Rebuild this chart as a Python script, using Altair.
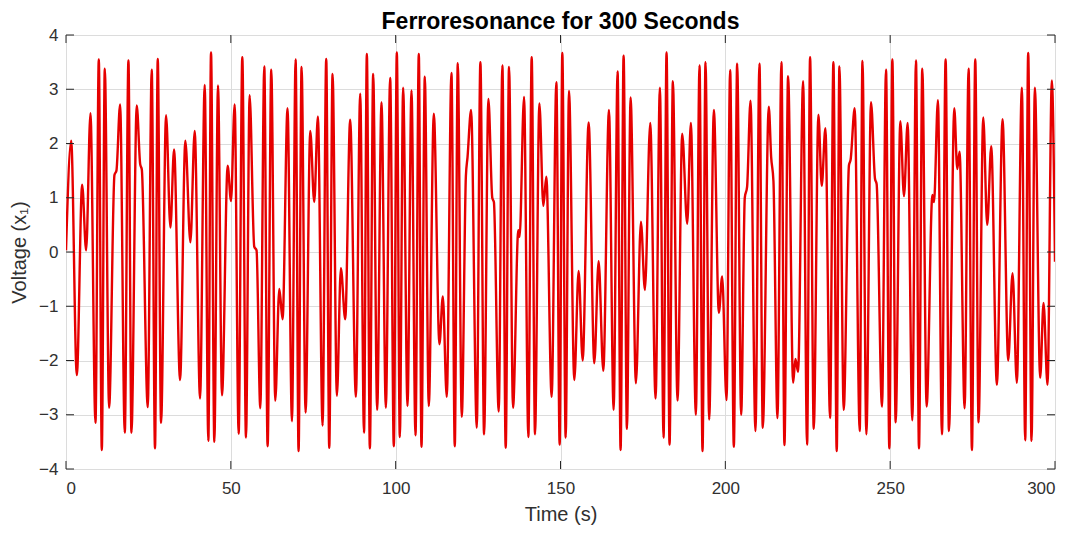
import altair as alt
import pandas as pd

# Time (s) of each read-off turning point / shoulder of the trace
t = [0, 1.57, 3.28, 4.9, 6.11, 7.42, 8.94, 9.95, 10.86, 11.77, 13.08, 14.7, 15.3, 16.41, 17.83, 18.94, 19.85,
     21.46, 22.5, 23.0, 24.8, 26.0, 27.0, 27.83, 28.84, 30.35, 31.67, 32.78, 34.6, 36.2, 37.73, 39.04, 40.66,
     42.07, 43.18, 43.99, 45.0, 46.11, 47.32, 49.04, 50.05, 51.16, 52.37, 53.48, 54.6, 55.7, 57.1, 57.8, 58.94,
     60.15, 61.16, 62.27, 63.48, 64.7, 65.7, 67.2, 68.54, 69.65, 70.55, 71.46, 72.68, 74.09, 75.3, 76.41, 77.83,
     78.94, 79.85, 80.86, 82.17, 83.38, 84.7, 86.2, 87.93, 89.24, 90.4, 91.26, 92.17, 93.18, 94.39, 95.7, 97.02,
     98.33, 99.44, 100.35, 101.26, 102.27, 103.59, 104.8, 106.01, 107.02, 107.83, 108.84, 110.05, 111.57, 113.28,
     114.3, 115.5, 116.92, 117.93, 118.84, 120.05, 121.3, 121.8, 122.88, 124.6, 125.7, 126.82, 128.13, 129.3,
     129.8, 131.26, 132.37, 133.38, 134.39, 135.6, 137.2, 137.6, 138.94, 140.25, 141.26, 142.27, 143.59, 144.8,
     145.7, 147.32, 148.74, 149.75, 150.55, 151.57, 152.58, 154.19, 155.5, 156.72, 158.54, 160.25, 161.57, 162.98,
     164.7, 166.11, 167.32, 168.23, 169.14, 170.15, 171.26, 172.88, 174.39, 175.6, 177.22, 178.84, 180.15, 181.26,
     182.17, 183.08, 184.09, 185.5, 186.92, 188.43, 189.55, 191.06, 192.17, 193.08, 193.99, 195.1, 196.52, 198.03,
     199.04, 200.36, 201.46, 202.58, 203.59, 204.8, 205.9, 206.6, 207.63, 209.14, 210.35, 211.36, 213.18, 213.9,
     214.6, 215.81, 217.02, 217.93, 219.04, 220.56, 221.26, 222.07, 223.59, 224.8, 225.71, 226.82, 228.23, 229.24,
     230.35, 231.77, 232.78, 233.79, 234.6, 235.91, 237.5, 238.0, 239.24, 240.76, 241.6, 242.78, 244.19, 245.4,
     245.9, 247.52, 248.74, 249.75, 250.66, 251.67, 253.08, 254.19, 255.3, 256.72, 257.83, 258.74, 259.75, 261.06,
     262.8, 263.3, 264.49, 265.71, 266.82, 267.83, 269.45, 270.35, 271.06, 272.58, 273.79, 274.8, 275.81, 276.82,
     278.23, 279.44, 280.66, 282.37, 284.09, 285.81, 287.12, 288.43, 289.95, 290.96, 291.87, 292.88, 293.89,
     295.51, 296.52, 297.73, 299.04, 300]

# Voltage x1 at those times
x1 = [0.03, 2.05, -2.27, 1.24, 0.03, 2.56, -3.15, 3.55, -3.65, 3.38, -2.87, 1.42, 1.50, 2.72, -3.33, 3.53, -3.33,
      2.70, 1.62, 1.52, -2.86, 3.36, -3.62, 3.56, -3.15, 2.52, 0.45, 1.89, -2.36, 2.05, 0.18, 2.23, -2.70,
      3.08, -3.48, 3.68, -3.50, 3.07, -2.64, 1.59, 0.94, 2.72, -3.35, 3.59, -3.42, 2.89, 0.10, 0.03, -2.88,
      3.42, -3.58, 3.36, -2.74, -0.68, -1.24, 2.65, -3.12, 3.55, -3.67, 3.41, -2.96, 2.23, 0.92, 2.50, -3.20,
      3.56, -3.61, 3.28, -2.65, -0.30, -1.24, 2.44, -2.67, 2.92, -3.33, 3.65, -3.62, 3.28, -2.91, 2.76, -2.87,
      3.21, -3.58, 3.68, -3.41, 3.03, -2.84, 2.98, -3.38, 3.65, -3.59, 3.23, -2.84, 2.55, -1.70,
      -0.82, -2.67, 3.30, -3.58, 3.48, -3.04, 1.40, 1.75, 2.62, -3.24, 3.50, -3.36, 2.82, 1.00,
      0.92, -2.94, 3.44, -3.61, 3.41, -2.87, 0.40, 0.28, 2.86, -3.41, 3.59, -3.36, 2.74, 0.85,
      1.39, -2.67, 3.13, -3.55, 3.67, -3.42, 2.97, -2.36, -0.35, -2.00, 2.39, -2.05, -0.17, -2.19,
      2.62, -2.91, 3.33, -3.65, 3.62, -3.26, 2.85, -2.42, 0.56, -0.70, 2.38, -2.70, 3.03, -3.42,
      3.68, -3.55, 3.15, -2.74, 2.18, 0.52, 2.38, -3.00, 3.44, -3.67, 3.50, -3.09, 2.62, -1.12,
      -0.45, -2.73, 3.35, -3.59, 3.47, -3.00, 1.00, 1.20, 2.79, -3.30, 3.47, -3.24, 2.68, 1.75,
      1.30, -3.06, 3.50, -3.56, 3.24, -2.41, -1.97, -2.21, 3.15, -3.55, 3.59, -3.26, 2.53, 1.22,
      2.28, -3.06, 3.50, -3.67, 3.42, -2.91, 1.60, 1.70, 2.65, -3.30, 3.52, -3.36, 2.76, 1.35,
      1.25, -2.85, 3.36, -3.62, 3.55, -3.14, 2.41, 1.03, 2.38, -3.10, 3.53, -3.62, 3.38, -2.85,
      1.05, 0.92, 2.80, -3.36, 3.55, -3.30, 2.65, 1.53, 1.85, -2.88, 3.38, -3.65, 3.55, -3.14,
      2.48, 0.50, 1.95, -2.45, 2.45, -2.00, -0.39, -2.41, 3.03, -3.47, 3.67, -3.48, 3.03,
      -2.32, -0.94, -2.45, 3.16, -0.18]

x_ticks = [0, 50, 100, 150, 200, 250, 300]
y_ticks = [-4, -3, -2, -1, 0, 1, 2, 3, 4]
title_text = ["Ferroresonance for 300 Seconds"]

W, H = 989, 434
FONT = "Liberation Sans"
TXT = "#303030"

df = pd.DataFrame({"t": t, "x1": x1})
xt = pd.DataFrame({"v": x_ticks})
yt = pd.DataFrame({"v": y_ticks})
tt = pd.DataFrame({"title": title_text})

xscale = alt.Scale(domain=[0, 300], nice=False, zero=False)
yscale = alt.Scale(domain=[-4, 4], nice=False, zero=False)

line = alt.Chart(df).mark_line(color="#e60000", strokeWidth=2.4, interpolate="monotone", clip=True).encode(
    x=alt.X("t:Q", scale=xscale, title="Time (s)",
            axis=alt.Axis(values=x_ticks, grid=True, gridColor="#dcdcdc", tickSize=0, domain=False,
                          labelPadding=11, titlePadding=8, labelFontSize=17, titleFontSize=20,
                          labelColor=TXT, titleColor=TXT, labelFont=FONT, titleFont=FONT,
                          titleFontWeight="normal")),
    y=alt.Y("x1:Q", scale=yscale, title="Voltage (x\u2081)",
            axis=alt.Axis(values=y_ticks, grid=True, gridColor="#dcdcdc", tickSize=0, domain=False,
                          labelPadding=8, titlePadding=9, labelFontSize=17, titleFontSize=20,
                          labelColor=TXT, titleColor=TXT, labelFont=FONT, titleFont=FONT,
                          titleFontWeight="normal")),
)

tick_col = "#262626"
xb = alt.Chart(xt).mark_rule(color=tick_col, strokeWidth=1).encode(
    x=alt.X("v:Q", scale=xscale), y=alt.value(H), y2=alt.value(H - 8))
xtp = alt.Chart(xt).mark_rule(color=tick_col, strokeWidth=1).encode(
    x=alt.X("v:Q", scale=xscale), y=alt.value(0), y2=alt.value(8))
yl = alt.Chart(yt).mark_rule(color=tick_col, strokeWidth=1).encode(
    y=alt.Y("v:Q", scale=yscale), x=alt.value(0), x2=alt.value(8))
yr = alt.Chart(yt).mark_rule(color=tick_col, strokeWidth=1).encode(
    y=alt.Y("v:Q", scale=yscale), x=alt.value(W), x2=alt.value(W - 8))

title = alt.Chart(tt).mark_text(font=FONT, fontSize=23, fontWeight="bold", color="#000000",
                                align="center", baseline="alphabetic").encode(
    text="title:N", x=alt.value(W / 2), y=alt.value(-6))

chart = alt.layer(line, xb, xtp, yl, yr, title).properties(
    width=W, height=H,
    autosize=alt.AutoSizeParams(type="none"),
    padding={"left": 58, "top": 27, "right": 15, "bottom": 56},
).configure_view(stroke="#262626", strokeWidth=1).configure(background="white")

chart.save("out.html", embed_options={"renderer": "svg", "actions": False})
